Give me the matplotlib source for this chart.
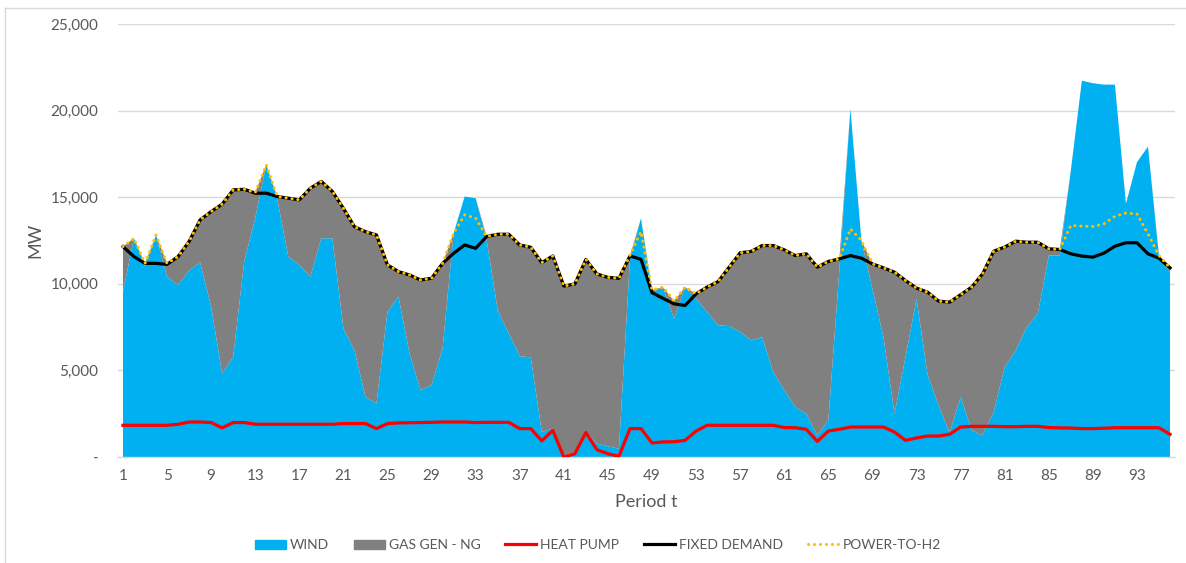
import matplotlib.pyplot as plt
from matplotlib.lines import Line2D
from matplotlib.patches import Patch
from matplotlib.ticker import FuncFormatter

plt.rcParams['font.family'] = ['Lato', 'DejaVu Sans']

# --- data (MW per period) ---
periods = list(range(1, 97))

wind = [9540, 12630, 11000, 12820, 10400, 9930, 10760, 11240, 8680, 4820,
        5780, 11280, 13790, 16870, 14900, 11570, 11090, 10410, 12630, 12630,
        7420, 6170, 3470, 3090, 8390, 9250, 5980, 3860, 4150, 6270,
        12920, 15040, 14940, 12530, 8480, 7130, 5820, 5750, 1450, 1640,
        100, 290, 1450, 770, 620, 480, 11400, 13790, 9540, 9790,
        7980, 9810, 9130, 8370, 7600, 7560, 7210, 6730, 6920, 4900,
        3850, 2880, 2500, 1250, 2120, 10800, 20100, 12500, 9700, 6920,
        2500, 5770, 9130, 4760, 2980, 1390, 3460, 1540, 1250, 2600,
        5190, 6150, 7500, 8270, 11630, 11630, 16540, 21730, 21580, 21500,
        21500, 14620, 17020, 17920, 11540, 10670]

gas = [2610, 0, 180, 0, 780, 1640, 1680, 2450, 5490, 9780,
       9640, 4180, 1480, 0, 140, 3370, 3760, 5110, 3280, 2700,
       6940, 7130, 9540, 9730, 2700, 1450, 4530, 6360, 6170, 4910,
       0, 0, 0, 200, 4380, 5730, 6420, 6360, 9770, 9970,
       9770, 9700, 9960, 9800, 9750, 9840, 210, 0, 100, 20,
       1020, 0, 290, 1440, 2530, 3400, 4580, 5140, 5290, 7310,
       8110, 8750, 9230, 9710, 9170, 640, 0, 0, 1450, 4000,
       8170, 4420, 620, 4760, 6020, 7550, 5910, 8270, 9330, 9280,
       6930, 6310, 4900, 4130, 390, 350, 0, 0, 0, 0,
       0, 0, 0, 0, 90, 250]

heat_pump = [1830, 1830, 1830, 1830, 1830, 1890, 2020, 2020, 1990, 1680,
             1990, 1990, 1890, 1890, 1890, 1890, 1890, 1890, 1890, 1890,
             1930, 1930, 1930, 1640, 1930, 1970, 1980, 1990, 2000, 2020,
             2020, 2020, 1990, 2000, 2000, 2000, 1640, 1640, 930, 1540,
             0, 190, 1410, 420, 190, 40, 1640, 1640, 810, 870,
             880, 960, 1500, 1830, 1830, 1830, 1830, 1830, 1830, 1830,
             1700, 1690, 1600, 900, 1500, 1600, 1730, 1730, 1730, 1730,
             1440, 960, 1100, 1210, 1210, 1310, 1730, 1770, 1770, 1770,
             1750, 1750, 1770, 1770, 1700, 1680, 1670, 1640, 1640, 1660,
             1690, 1690, 1690, 1690, 1690, 1310]

fixed_demand = [12150, 11570, 11180, 11180, 11120, 11570, 12440, 13690, 14170, 14600,
                15420, 15460, 15230, 15230, 15040, 14940, 14850, 15520, 15910, 15330,
                14360, 13300, 13010, 12820, 11090, 10700, 10510, 10220, 10320, 11180,
                11760, 12240, 12050, 12730, 12860, 12860, 12240, 12110, 11220, 11610,
                9870, 9990, 11410, 10570, 10370, 10320, 11610, 11410, 9490, 9160,
                8840, 8750, 9420, 9810, 10130, 10960, 11790, 11870, 12210, 12210,
                11960, 11630, 11730, 10960, 11290, 11440, 11630, 11480, 11150, 10920,
                10670, 10190, 9750, 9520, 9000, 8940, 9370, 9810, 10580, 11880,
                12120, 12460, 12400, 12400, 12020, 11980, 11730, 11600, 11540, 11770,
                12170, 12370, 12370, 11730, 11480, 10920]

power_to_h2 = [12150, 12630, 11180, 12820, 11180, 11570, 12440, 13690, 14170, 14600,
               15420, 15460, 15270, 16870, 15040, 14940, 14850, 15520, 15910, 15330,
               14360, 13300, 13010, 12820, 11090, 10700, 10510, 10220, 10320, 11180,
               12920, 13980, 13790, 12730, 12860, 12860, 12240, 12110, 11220, 11610,
               9870, 9990, 11410, 10570, 10370, 10320, 11650, 13010, 9640, 9810,
               9000, 9810, 9420, 9810, 10130, 10960, 11790, 11870, 12210, 12210,
               11960, 11630, 11730, 10960, 11290, 11440, 13170, 12500, 11150, 10920,
               10670, 10190, 9750, 9520, 9000, 8940, 9370, 9810, 10580, 11880,
               12120, 12460, 12400, 12400, 12020, 11980, 13370, 13330, 13310, 13460,
               13900, 14080, 14040, 12880, 11630, 10920]

x_ticks = list(range(1, 97, 4))

WIND_C = '#00B0F0'
GAS_C = '#808080'
GRID_C = '#D9D9D9'
TXT_C = '#595959'
DOTS = (0, (0.05, 1.9))

fig = plt.figure(figsize=(11.86, 5.63), dpi=100)
ax = fig.add_axes([118 / 1186, 1 - 457 / 563, (1175 - 118) / 1186, (457 - 24) / 563])

ax.stackplot(periods, wind, gas, colors=[WIND_C, GAS_C], linewidth=0, zorder=2)
ax.plot(periods, heat_pump, color='#FF0000', lw=2.3, zorder=3)
ax.plot(periods, fixed_demand, color='black', lw=2.3, zorder=4)
ax.plot(periods, power_to_h2, color='#FFC000', lw=2.2, ls=DOTS,
        dash_capstyle='round', zorder=5)

ax.set_xlim(0.55, 96.45)
ax.set_ylim(0, 25000)
ax.set_xticks(x_ticks)
ax.set_yticks(range(0, 25001, 5000))
ax.yaxis.set_major_formatter(FuncFormatter(lambda v, p: '-' if v == 0 else f'{int(v):,}'))
ax.grid(axis='y', color=GRID_C, lw=1.0, zorder=0)
ax.set_axisbelow(True)
for s in ['left', 'right', 'top']:
    ax.spines[s].set_visible(False)
ax.spines['bottom'].set_color(GRID_C)
ax.spines['bottom'].set_linewidth(1.0)
ax.tick_params(axis='both', length=0, labelsize=11, labelcolor=TXT_C)
ax.tick_params(axis='y', pad=14)
ax.tick_params(axis='x', pad=9)

fig.text(35 / 1186, 1 - 240 / 563, 'MW', rotation=90, ha='center', va='center',
         fontsize=13, color=TXT_C)
fig.text(646 / 1186, 1 - 502 / 563, 'Period t', ha='center', va='center',
         fontsize=13, color=TXT_C)

handles = [
    Patch(color=WIND_C, label='WIND'),
    Patch(color=GAS_C, label='GAS GEN - NG'),
    Line2D([], [], color='#FF0000', lw=2.3, label='HEAT PUMP'),
    Line2D([], [], color='black', lw=2.3, label='FIXED DEMAND'),
    Line2D([], [], color='#FFC000', lw=2.2, ls=DOTS, dash_capstyle='round',
           label='POWER-TO-H2'),
]
leg = fig.legend(handles=handles, loc='center', bbox_to_anchor=(598 / 1186, 1 - 545 / 563),
                 ncol=5, frameon=False, fontsize=10, handlelength=2.2, handleheight=0.6,
                 handletextpad=0.3, columnspacing=1.8)
for t in leg.get_texts():
    t.set_color(TXT_C)

# chart border (only left and top are visible in the reference)
fig.add_artist(Line2D([5 / 1186, 5 / 1186], [0, 1 - 8 / 563], color=GRID_C, lw=1.0))
fig.add_artist(Line2D([5 / 1186, 1], [1 - 8 / 563, 1 - 8 / 563], color=GRID_C, lw=1.0))

fig.savefig('out.png', dpi=100)
